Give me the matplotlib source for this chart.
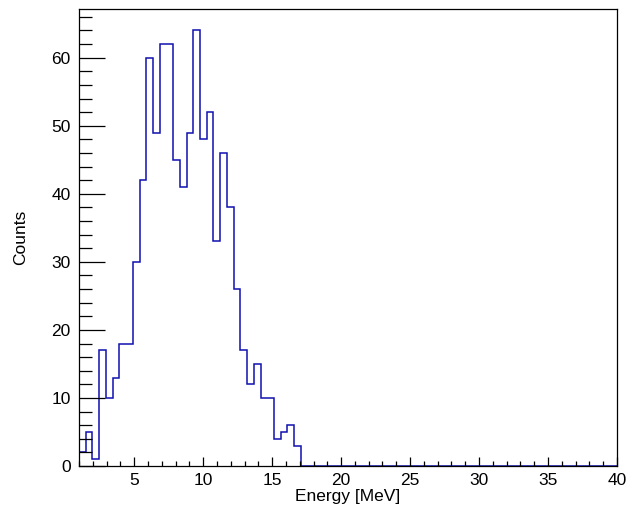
import numpy as np
import matplotlib
matplotlib.use("Agg")
import matplotlib.pyplot as plt
from matplotlib.ticker import MultipleLocator

plt.rcParams['font.family'] = ['Liberation Sans', 'DejaVu Sans']

# histogram: 80 bins from 1 to 40 MeV
x_min = 1.0
x_max = 40.0
n_bins = 80
counts = [2, 5, 1, 17, 10, 13, 18, 18, 30, 42,
          60, 49, 62, 62, 45, 41, 49, 64, 48, 52,
          33, 46, 38, 26, 17, 12, 15, 10, 10, 4,
          5, 6, 3]
counts = counts + [0] * (n_bins - len(counts))
edges = np.linspace(x_min, x_max, n_bins + 1)

fig = plt.figure(figsize=(6.26, 5.12), dpi=100)
ax = fig.add_axes([0.1262, 0.0898, 0.8594, 0.8932])

ax.stairs(counts, edges, baseline=None, color='#1010b0', linewidth=1.1)

ax.set_xlim(x_min, x_max)
ax.set_ylim(0, 1.05 * max(counts))

ax.xaxis.set_major_locator(MultipleLocator(5))
ax.xaxis.set_minor_locator(MultipleLocator(1))
ax.yaxis.set_major_locator(MultipleLocator(10))
ax.yaxis.set_minor_locator(MultipleLocator(2))

ax.tick_params(axis='both', which='both', direction='in', labelsize=12.5,
               top=False, right=False, width=0.9, color='black')
ax.tick_params(axis='y', which='major', length=18.7, pad=6)
ax.tick_params(axis='y', which='minor', length=9.4)
ax.tick_params(axis='x', which='major', length=6.5, pad=5)
ax.tick_params(axis='x', which='minor', length=3.6)

for s in ax.spines.values():
    s.set_linewidth(0.9)

ax.set_xlabel("Energy [MeV]", fontsize=12.5, labelpad=0.5)
ax.set_ylabel("Counts", fontsize=12.5, labelpad=17)

fig.savefig("out.png", dpi=100)
